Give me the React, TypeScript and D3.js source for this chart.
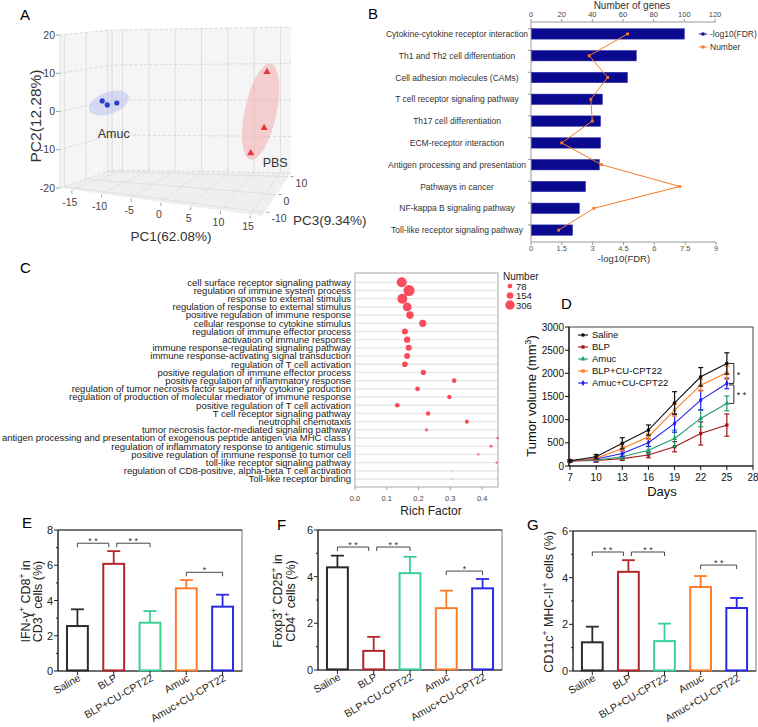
import React from 'react';
import * as d3 from 'd3';

const FONT = '"Liberation Sans", Arial, Helvetica, sans-serif';

// ---------------- Panel A : PCA ----------------
const amucPC1 = [-14.1, -13.2, -11.5];
const amucPC2 = [1.6, 0.6, 1.3];
const amucPC3 = [0, 0, 0];
const pbsPC1 = [15.3, 14.8, 12.4];
const pbsPC2 = [12.1, -2.7, -9.6];
const pbsPC3 = [0, 0, 0];
const pc1Ticks = [-15, -10, -5, 0, 5, 10, 15];
const pc2Ticks = [-20, -10, 0, 10, 20];
const pc3Ticks = [-10, 0, 10];
const pc1Domain = [-17, 17];
const pc2Domain = [-20, 20];
const pc3Domain = [-12, 12];

// ---------------- Panel B : KEGG ----------------
const keggTerms = [
  'Cytokine-cytokine receptor interaction',
  'Th1 and Th2 cell differentiation',
  'Cell adhesion molecules (CAMs)',
  'T cell receptor signaling pathway',
  'Th17 cell differentiation',
  'ECM-receptor interaction',
  'Antigen processing and presentation',
  'Pathways in cancer',
  'NF-kappa B signaling pathway',
  'Toll-like receptor signaling pathway',
];
const keggFDR = [7.44, 5.1, 4.67, 3.45, 3.36, 3.36, 3.3, 2.63, 2.33, 2.0];
const keggCount = [63, 38, 50, 39, 40, 20, 46, 97, 41, 18];
const fdrTicks = [0, 1.5, 3, 4.5, 6, 7.5, 9];
const countTicks = [0, 20, 40, 60, 80, 100, 120];

// ---------------- Panel C : GO ----------------
const goTerms = [
  'cell surface receptor signaling pathway',
  'regulation of immune system process',
  'response to external stimulus',
  'regulation of response to external stimulus',
  'positive regulation of immune response',
  'cellular response to cytokine stimulus',
  'regulation of immune effector process',
  'activation of immune response',
  'immune response-regulating signaling pathway',
  'immune response-activating signal transduction',
  'regulation of T cell activation',
  'positive regulation of immune effector process',
  'positive regulation of inflammatory response',
  'regulation of tumor necrosis factor superfamily cytokine production',
  'regulation of production of molecular mediator of immune response',
  'positive regulation of T cell activation',
  'T cell receptor signaling pathway',
  'neutrophil chemotaxis',
  'tumor necrosis factor-mediated signaling pathway',
  'antigen processing and presentation of exogenous peptide antigen via MHC class I',
  'regulation of inflammatory response to antigenic stimulus',
  'positive regulation of immune response to tumor cell',
  'toll-like receptor signaling pathway',
  'regulation of CD8-positive, alpha-beta T cell activation',
  'Toll-like receptor binding',
];
const goRich = [0.147, 0.17, 0.149, 0.164, 0.173, 0.213, 0.157, 0.164, 0.169, 0.164, 0.157, 0.215, 0.312, 0.197, 0.297, 0.133, 0.23, 0.352, 0.225, 0.449, 0.428, 0.388, 0.446, 0.307, 0.307];
const goCount = [350, 420, 350, 260, 200, 180, 125, 140, 125, 125, 110, 95, 74, 80, 67, 74, 67, 56, 36, 24, 31, 20, 20, 17, 17];
const goSignif = [1, 1, 1, 1, 1, 1, 1, 1, 1, 1, 1, 1, 1, 1, 1, 1, 1, 1, 0.9, 0.9, 0.85, 0.8, 0.8, 0.25, 0.25];
const goLegend = [78, 154, 306];
const richTicks = [0, 0.1, 0.2, 0.3, 0.4];

// ---------------- Panel D : tumor growth ----------------
const days = [7, 10, 13, 16, 19, 22, 25];
const dayTicks = [7, 10, 13, 16, 19, 22, 25, 28];
const volTicks = [0, 500, 1000, 1500, 2000, 2500, 3000];
const tumorGroups = ['Saline', 'BLP', 'Amuc', 'BLP+CU-CPT22', 'Amuc+CU-CPT22'];
const salineVol = [110, 200, 490, 776, 1364, 1925, 2213];
const salineErr = [20, 50, 120, 110, 240, 200, 230];
const blpVol = [110, 120, 160, 237, 416, 703, 883];
const blpErr = [20, 40, 40, 60, 110, 250, 240];
const amucVol = [110, 130, 200, 340, 595, 1027, 1351];
const amucErr = [20, 40, 60, 80, 180, 180, 160];
const blpCuVol = [110, 165, 380, 632, 1207, 1745, 2012];
const blpCuErr = [20, 40, 50, 60, 130, 125, 140];
const amucCuVol = [110, 150, 270, 503, 919, 1422, 1782];
const amucCuErr = [20, 40, 60, 80, 190, 210, 115];

// ---------------- Panels E, F, G ----------------
const barGroups = ['Saline', 'BLP', 'BLP+CU-CPT22', 'Amuc', 'Amuc+CU-CPT22'];
const ifnMean = [2.55, 6.08, 2.74, 4.69, 3.65];
const ifnSd = [0.95, 0.72, 0.66, 0.47, 0.68];
const ifnTicks = [0, 2, 4, 6, 8];
const foxMean = [4.4, 0.82, 4.15, 2.65, 3.5];
const foxSd = [0.5, 0.6, 0.7, 0.75, 0.4];
const foxTicks = [0, 2, 4, 6];
const cdMean = [1.23, 4.25, 1.28, 3.6, 2.7];
const cdSd = [0.67, 0.5, 0.75, 0.47, 0.43];
const cdTicks = [0, 2, 4, 6];
// significance brackets: [fromIndex, toIndex, level, stars]
const ifnSig: [number, number, number, string][] = [[0, 1, 7.25, '* *'], [1, 2, 7.25, '* *'], [3, 4, 5.6, '*']];
const foxSig: [number, number, number, string][] = [[0, 1, 5.27, '* *'], [1, 2, 5.27, '* *'], [3, 4, 4.24, '*']];
const cdSig: [number, number, number, string][] = [[0, 1, 5.1, '* *'], [1, 2, 5.1, '* *'], [3, 4, 4.54, '* *']];

// ---------------- helpers ----------------
type Part = [string, boolean];
function rich(parts: Part[], fs: number) {
  let raised = false;
  return parts.map(([t, sup], i) => {
    let dy: number | undefined;
    if (sup && !raised) { dy = -fs * 0.38; raised = true; }
    else if (!sup && raised) { dy = fs * 0.38; raised = false; }
    return (
      <tspan key={i} dy={dy} fontSize={sup ? fs * 0.68 : fs}>{t}</tspan>
    );
  });
}

type P2 = [number, number];
const lerp = (a: P2, b: P2, t: number): P2 => [a[0] + (b[0] - a[0]) * t, a[1] + (b[1] - a[1]) * t];

// ---------------- Panel A ----------------
function PanelA() {
  const C = {
    f: { b: { l: [60, 188] as P2, r: [262, 216] as P2 }, t: { l: [60, 35] as P2, r: [262, 58] as P2 } },
    k: { b: { l: [112, 170] as P2, r: [291, 173] as P2 }, t: { l: [112, 30] as P2, r: [291, 27] as P2 } },
  };
  const s1 = d3.scaleLinear().domain(pc1Domain).range([0, 1]);
  const s2 = d3.scaleLinear().domain(pc2Domain).range([0, 1]);
  const s3 = d3.scaleLinear().domain(pc3Domain).range([0, 1]);
  const proj = (a: number, b: number, c: number): P2 => {
    const u = s1(a), v = s2(b), w = s3(c);
    const f = lerp(lerp(C.f.b.l, C.f.b.r, u), lerp(C.f.t.l, C.f.t.r, u), v);
    const k = lerp(lerp(C.k.b.l, C.k.b.r, u), lerp(C.k.t.l, C.k.t.r, u), v);
    return lerp(f, k, w);
  };
  const line = d3.line();
  const [x0, x1] = pc1Domain, [y0, y1] = pc2Domain, [z0, z1] = pc3Domain;
  const poly = (pts: P2[]) => line(pts)! + 'Z';
  const grid = '#d8d8d8';
  const amucPts = amucPC1.map((v, i) => proj(v, amucPC2[i], amucPC3[i]));
  const pbsPts = pbsPC1.map((v, i) => proj(v, pbsPC2[i], pbsPC3[i]));
  const cen = (pts: P2[]): P2 => [d3.mean(pts, (p) => p[0])!, d3.mean(pts, (p) => p[1])!];
  const ca = cen(amucPts), cp = cen(pbsPts);
  const tri = d3.symbol().type(d3.symbolTriangle).size(22)()!;
  return (
    <g fontFamily={FONT}>
      <text x={20} y={20} fontSize={15}>A</text>
      <path d={poly([proj(x0, y0, z0), proj(x0, y1, z0), proj(x0, y1, z1), proj(x0, y0, z1)])} fill="#f5f5f5" />
      <path d={poly([proj(x0, y0, z1), proj(x0, y1, z1), proj(x1, y1, z1), proj(x1, y0, z1)])} fill="#f5f5f5" />
      <path d={poly([proj(x0, y0, z0), proj(x0, y0, z1), proj(x1, y0, z1), proj(x1, y0, z0)])} fill="#efefef" />
      {pc1Ticks.map((t) => <path key={'bv' + t} d={line([proj(t, y0, z1), proj(t, y1, z1)])!} stroke={grid} strokeWidth={0.8} />)}
      {pc3Ticks.map((t) => <path key={'lv' + t} d={line([proj(x0, y0, t), proj(x0, y1, t)])!} stroke={grid} strokeWidth={0.8} />)}
      <path d={line([proj(x0, y0, z0), proj(x0, y1, z0)])!} stroke={grid} strokeWidth={0.8} />
      <path d={line([proj(x0, y0, z1), proj(x0, y1, z1)])!} stroke="#d0d0d0" strokeWidth={0.8} />
      {pc2Ticks.map((t) => (
        <path key={'h' + t} d={line([proj(x0, t, z0), proj(x0, t, z1), proj(x1, t, z1)])!} stroke="#d0d0d0" strokeWidth={0.8} strokeDasharray="3,2" fill="none" />
      ))}
      {pc1Ticks.map((t) => <path key={'fv' + t} d={line([proj(t, y0, z0), proj(t, y0, z1)])!} stroke="#dcdcdc" strokeWidth={0.8} />)}
      {pc3Ticks.map((t) => <path key={'fh' + t} d={line([proj(x0, y0, t), proj(x1, y0, t)])!} stroke="#dcdcdc" strokeWidth={0.8} />)}
      {pc2Ticks.map((t) => {
        const p = proj(x0, t, z0);
        return (
          <g key={'t2' + t}>
            <line x1={p[0] - 4} x2={p[0]} y1={p[1]} y2={p[1]} stroke="#888" strokeWidth={0.8} />
            <text x={p[0] - 5} y={p[1] + 3.5} fontSize={10.5} textAnchor="end" fill="#444">{t}</text>
          </g>
        );
      })}
      {pc1Ticks.map((t) => {
        const p = proj(t, y0, z0);
        return (
          <g key={'t1' + t}>
            <line x1={p[0]} x2={p[0]} y1={p[1] + 1} y2={p[1] + 4} stroke="#888" strokeWidth={0.8} />
            <text x={p[0] - 2} y={p[1] + 16} fontSize={10.5} textAnchor="middle" fill="#444">{t}</text>
          </g>
        );
      })}
      {pc3Ticks.map((t) => {
        const p = proj(x1, y0, t);
        return (
          <g key={'t3' + t}>
            <line x1={p[0] + 2} x2={p[0] + 5} y1={p[1]} y2={p[1]} stroke="#888" strokeWidth={0.8} />
            <text x={p[0] + 7} y={p[1] + 10} fontSize={10.5} textAnchor="start" fill="#444">{t}</text>
          </g>
        );
      })}
      <ellipse cx={ca[0]} cy={ca[1]} rx={21} ry={11} transform={`rotate(-20 ${ca[0]} ${ca[1]})`} fill="#9aa8ee" fillOpacity={0.35} />
      <ellipse cx={cp[0]} cy={cp[1] - 6} rx={16} ry={49} transform={`rotate(12 ${cp[0]} ${cp[1] - 6})`} fill="#f4a0a0" fillOpacity={0.45} />
      {amucPts.map((p, i) => <circle key={'a' + i} cx={p[0]} cy={p[1]} r={2.6} fill="#2a3bd0" />)}
      {pbsPts.map((p, i) => <path key={'p' + i} d={tri} transform={`translate(${p[0]},${p[1]})`} fill="#e8323c" />)}
      <text x={ca[0] - 11} y={ca[1] + 35} fontSize={12.5} fill="#333">Amuc</text>
      <text x={cp[0] + 2} y={cp[1] + 49} fontSize={12.5} fill="#333">PBS</text>
      <text transform="translate(41,116) rotate(-90)" fontSize={15.5} textAnchor="middle" fill="#333">PC2(12.28%)</text>
      <text x={171} y={241} fontSize={13.5} textAnchor="middle" fill="#333">PC1(62.08%)</text>
      <text x={293} y={225} fontSize={13.5} fill="#333">PC3(9.34%)</text>
    </g>
  );
}

// ---------------- Panel B ----------------
function PanelB() {
  const xF = d3.scaleLinear().domain([0, 9]).range([531, 716]);
  const xN = d3.scaleLinear().domain([0, 120]).range([531, 715]);
  const y = d3.scaleBand<string>().domain(keggTerms).range([23, 241]).paddingInner(0.52).paddingOuter(0.26);
  const step = y.step();
  const ln = d3.line<number>().x((d) => xN(d)).y((_, i) => y(keggTerms[i])! + y.bandwidth() / 2);
  const ax = '#9a9a9a';
  return (
    <g fontFamily={FONT}>
      <text x={368} y={19} fontSize={15}>B</text>
      <text x={632} y={9} fontSize={10} textAnchor="middle" fill="#333">Number of genes</text>
      <line x1={531} x2={716} y1={22} y2={22} stroke={ax} />
      {countTicks.map((t) => (
        <g key={'ct' + t}>
          <line x1={xN(t)} x2={xN(t)} y1={22} y2={19} stroke={ax} />
          <text x={xN(t)} y={17} fontSize={7.5} textAnchor="middle" fill="#444">{t}</text>
        </g>
      ))}
      <line x1={531} x2={716} y1={242} y2={242} stroke={ax} />
      {fdrTicks.map((t) => (
        <g key={'ft' + t}>
          <line x1={xF(t)} x2={xF(t)} y1={242} y2={245} stroke={ax} />
          <text x={xF(t)} y={251} fontSize={7.5} textAnchor="middle" fill="#555">{t}</text>
        </g>
      ))}
      <text x={624} y={262} fontSize={9.5} textAnchor="middle" fill="#333">-log10(FDR)</text>
      <line x1={531} x2={531} y1={22} y2={242} stroke={ax} />
      {keggTerms.map((t, i) => (
        <g key={t}>
          <line x1={528} x2={531} y1={23 + step * 0.26 + step * i} y2={23 + step * 0.26 + step * i} stroke={ax} />
          <rect x={xF(0) + 0.5} y={y(t)!} width={xF(keggFDR[i]) - xF(0)} height={y.bandwidth()} fill="#0a0a8e" stroke="#3030b0" strokeWidth={0.5} />
          <text x={457} y={y(t)! + y.bandwidth() / 2 + 3} fontSize={8.5} textAnchor="middle" fill="#333">{t}</text>
        </g>
      ))}
      <path d={ln(keggCount)!} fill="none" stroke="#f6792a" strokeWidth={1} />
      {keggCount.map((c, i) => (
        <rect key={'m' + i} x={xN(c) - 1.4} y={y(keggTerms[i])! + y.bandwidth() / 2 - 1.4} width={2.8} height={2.8} fill="#f6792a" />
      ))}
      <line x1={699} x2={707} y1={34} y2={34} stroke="#0a0a8e" strokeWidth={1} />
      <rect x={701.5} y={32.5} width={3} height={3} fill="#0a0a8e" />
      <text x={710} y={37} fontSize={8.5} fill="#333">-log10(FDR)</text>
      <line x1={699} x2={707} y1={47} y2={47} stroke="#f6792a" strokeWidth={1} />
      <rect x={701.5} y={45.5} width={3} height={3} fill="#f6792a" />
      <text x={710} y={50} fontSize={8.5} fill="#333">Number</text>
    </g>
  );
}

// ---------------- Panel C ----------------
function PanelC() {
  const x = d3.scaleLinear().domain([0, 0.45]).range([355, 498]);
  const y = d3.scalePoint<string>().domain(goTerms).range([282.3, 479]);
  const r = d3.scaleSqrt().domain([0, 306]).range([0, 4.7]);
  const col = d3.scaleLinear<string>().domain([0, 1]).range(['#fde2e2', '#fb4a5c']);
  return (
    <g fontFamily={FONT}>
      <text x={20} y={273} fontSize={15}>C</text>
      <rect x={355} y={273} width={143} height={214} fill="#fff" />
      {goTerms.map((t) => (
        <line key={'g' + t} x1={355} x2={498} y1={y(t)} y2={y(t)} stroke="#e6e6e6" strokeWidth={1.3} />
      ))}
      <rect x={355} y={273} width={143} height={214} fill="none" stroke="#a8a8a8" strokeWidth={1} />
      {goTerms.map((t) => (
        <text key={'l' + t} x={351} y={y(t)! + 3.3} fontSize={9.5} textAnchor="end" fill="#1a1a1a">{t}</text>
      ))}
      {goTerms.map((t, i) => (
        <circle key={'c' + t} cx={x(goRich[i])} cy={y(t)} r={r(goCount[i])} fill={col(goSignif[i])} />
      ))}
      {richTicks.map((t) => (
        <g key={'rt' + t}>
          <line x1={x(t)} x2={x(t)} y1={487} y2={490} stroke="#999" />
          <text x={x(t)} y={501} fontSize={7.5} textAnchor="middle" fill="#444">{t.toFixed(1)}</text>
        </g>
      ))}
      <text x={431} y={515} fontSize={12} textAnchor="middle" fill="#222">Rich Factor</text>
      <text x={503} y={280} fontSize={10} fill="#222">Number</text>
      {goLegend.map((n, i) => (
        <g key={'lg' + n}>
          <circle cx={510} cy={286 + i * 9.5} r={r(n)} fill="#fb4a5c" />
          <text x={516} y={289.5 + i * 9.5} fontSize={9.5} fill="#222">{n}</text>
        </g>
      ))}
    </g>
  );
}

// ---------------- Panel D ----------------
function PanelD() {
  const x = d3.scaleLinear().domain([7, 28]).range([570, 753]);
  const y = d3.scaleLinear().domain([0, 3000]).range([466, 327]);
  const series = [
    { name: tumorGroups[0], v: salineVol, e: salineErr, c: '#111111', s: d3.symbolCircle },
    { name: tumorGroups[1], v: blpVol, e: blpErr, c: '#a3151b', s: d3.symbolSquare },
    { name: tumorGroups[2], v: amucVol, e: amucErr, c: '#1d9e6f', s: d3.symbolTriangle },
    { name: tumorGroups[3], v: blpCuVol, e: blpCuErr, c: '#ff7a25', s: d3.symbolSquare },
    { name: tumorGroups[4], v: amucCuVol, e: amucCuErr, c: '#2020ee', s: d3.symbolDiamond },
  ];
  const ln = d3.line<number>().x((_, i) => x(days[i])).y((d) => y(d));
  const drawOrder = [1, 2, 4, 3, 0];
  const xb = x(25);
  return (
    <g fontFamily={FONT}>
      <text x={561} y={309} fontSize={15}>D</text>
      <rect x={569} y={327} width={184} height={139} fill="none" stroke="#444" strokeWidth={1} />
      <line x1={569} x2={569} y1={327} y2={466} stroke="#111" strokeWidth={1.2} />
      <line x1={569} x2={753} y1={466} y2={466} stroke="#111" strokeWidth={1.2} />
      {volTicks.map((t) => (
        <g key={'vt' + t}>
          <line x1={565} x2={569} y1={y(t)} y2={y(t)} stroke="#111" />
          <text x={564} y={y(t) + 3.5} fontSize={10} textAnchor="end" fill="#111">{t}</text>
        </g>
      ))}
      {dayTicks.map((t) => (
        <g key={'dt' + t}>
          <line x1={x(t)} x2={x(t)} y1={466} y2={470} stroke="#111" />
          <text x={x(t)} y={481} fontSize={10} textAnchor="middle" fill="#111">{t}</text>
        </g>
      ))}
      <text x={662} y={496} fontSize={13} textAnchor="middle" fill="#111">Days</text>
      <text transform="translate(536,396) rotate(-90)" fontSize={13} textAnchor="middle" fill="#111">
        {rich([['Tumor volume (mm', false], ['3', true], [')', false]], 13)}
      </text>
      {drawOrder.map((k) => {
        const s = series[k];
        const sym = d3.symbol().type(s.s).size(11)()!;
        return (
          <g key={s.name}>
            <path d={ln(s.v)!} fill="none" stroke={s.c} strokeWidth={1.1} />
            {s.v.map((v, i) => (
              <g key={i}>
                <line x1={x(days[i])} x2={x(days[i])} y1={y(v - s.e[i])} y2={y(v + s.e[i])} stroke={s.c} strokeWidth={1.2} />
                <line x1={x(days[i]) - 2.5} x2={x(days[i]) + 2.5} y1={y(v - s.e[i])} y2={y(v - s.e[i])} stroke={s.c} strokeWidth={1.2} />
                <line x1={x(days[i]) - 2.5} x2={x(days[i]) + 2.5} y1={y(v + s.e[i])} y2={y(v + s.e[i])} stroke={s.c} strokeWidth={1.2} />
                <path d={sym} transform={`translate(${x(days[i])},${y(v)})`} fill={s.c} />
              </g>
            ))}
          </g>
        );
      })}
      {series.map((s, i) => {
        const sym = d3.symbol().type(s.s).size(11)()!;
        const yy = 335 + i * 12;
        return (
          <g key={'lg' + s.name}>
            <line x1={578} x2={588} y1={yy} y2={yy} stroke={s.c} strokeWidth={1.1} />
            <path d={sym} transform={`translate(583,${yy})`} fill={s.c} />
            <text x={592} y={yy + 3.3} fontSize={9.5} fill="#111">{s.name}</text>
          </g>
        );
      })}
      <path d={`M${xb + 2},${y(salineVol[6])}H${xb + 7}V${y(amucCuVol[6])}H${xb + 2}`} fill="none" stroke="#111" strokeWidth={0.9} />
      <text x={xb + 10} y={y((salineVol[6] + amucCuVol[6]) / 2) + 5} fontSize={9} fill="#111">*</text>
      <path d={`M${xb + 2},${y(amucCuVol[6]) + 1.5}H${xb + 7}V${y(amucVol[6])}H${xb + 2}`} fill="none" stroke="#111" strokeWidth={0.9} />
      <text x={xb + 10} y={y((amucCuVol[6] + amucVol[6]) / 2) + 5} fontSize={9} fill="#111">* *</text>
    </g>
  );
}

// ---------------- Bar panels ----------------
type BarProps = {
  letter: string; lx: number; ly: number;
  x0: number; x1: number; yTop: number; yBot: number;
  ticks: number[]; means: number[]; sds: number[];
  sig: [number, number, number, string][];
  ylab: Part[][]; ylabX: number[];
};
const barColors = ['#2b2b2b', '#b3242b', '#3ccf95', '#ff7b2c', '#2a2ae6'];
function BarPanel(p: BarProps) {
  const yMax = p.ticks[p.ticks.length - 1];
  const x = d3.scaleBand<string>().domain(barGroups).range([p.x0, p.x1]).paddingInner(0.37).paddingOuter(0.22);
  const y = d3.scaleLinear().domain([0, yMax]).range([p.yBot, p.yTop]);
  const cx = (i: number) => x(barGroups[i])! + x.bandwidth() / 2;
  const bw = x.bandwidth();
  const yMid = (p.yTop + p.yBot) / 2 + 1;
  return (
    <g fontFamily={FONT}>
      <text x={p.lx} y={p.ly} fontSize={15}>{p.letter}</text>
      <rect x={p.x0} y={p.yTop} width={p.x1 - p.x0} height={p.yBot - p.yTop} fill="none" stroke="#777" strokeWidth={1} />
      <line x1={p.x0} x2={p.x1} y1={p.yTop} y2={p.yTop} stroke="#333" strokeWidth={1} />
      <line x1={p.x0} x2={p.x0} y1={p.yTop} y2={p.yBot} stroke="#222" strokeWidth={1.2} />
      <line x1={p.x0} x2={p.x1} y1={p.yBot} y2={p.yBot} stroke="#222" strokeWidth={1.2} />
      {p.ticks.map((t) => (
        <g key={'t' + t}>
          <line x1={p.x0 - 4} x2={p.x0} y1={y(t)} y2={y(t)} stroke="#222" />
          <text x={p.x0 - 5} y={y(t) + 4} fontSize={11} textAnchor="end" fill="#222">{t}</text>
        </g>
      ))}
      {p.ticks.slice(0, -1).map((t, i) => (
        <line key={'mt' + t} x1={p.x0 - 2} x2={p.x0} y1={y((t + p.ticks[i + 1]) / 2)} y2={y((t + p.ticks[i + 1]) / 2)} stroke="#222" />
      ))}
      {barGroups.map((g, i) => (
        <g key={g}>
          <line x1={cx(i)} x2={cx(i)} y1={y(p.means[i])} y2={y(p.means[i] + p.sds[i])} stroke={barColors[i]} strokeWidth={1.8} />
          <line x1={cx(i) - 6.5} x2={cx(i) + 6.5} y1={y(p.means[i] + p.sds[i])} y2={y(p.means[i] + p.sds[i])} stroke={barColors[i]} strokeWidth={1.8} />
          <rect x={x(g)! + 1} y={y(p.means[i])} width={bw - 2} height={p.yBot - y(p.means[i]) - 0.6} fill="#fff" stroke={barColors[i]} strokeWidth={2} />
          <line x1={cx(i)} x2={cx(i)} y1={p.yBot} y2={p.yBot + 4} stroke="#222" />
          <text transform={`translate(${cx(i) + 4},${p.yBot + 9}) rotate(-30)`} fontSize={10.5} textAnchor="end" fill="#222">{g}</text>
        </g>
      ))}
      {p.sig.map(([a, b, lv, s], k) => {
        const xa = cx(a) + (k === 1 ? 3 : 0);
        const xbb = cx(b) - (k === 0 ? 5 : 0);
        const yy = y(lv);
        return (
          <g key={'s' + k}>
            <path d={`M${xa},${yy + 4}V${yy}H${xbb}V${yy + 4}`} fill="none" stroke="#333" strokeWidth={0.9} />
            <text x={(xa + xbb) / 2} y={yy + 1} fontSize={9} textAnchor="middle" fill="#333">{s}</text>
          </g>
        );
      })}
      {p.ylab.map((parts, i) => (
        <text key={'yl' + i} transform={`translate(${p.ylabX[i]},${yMid}) rotate(-90)`} fontSize={12.5} textAnchor="middle" fill="#222">
          {rich(parts, 12.5)}
        </text>
      ))}
    </g>
  );
}

export default function App() {
  return (
    <svg width={758} height={727} viewBox="0 0 758 727" style={{ position: 'absolute', left: 0, top: 0, display: 'block', background: '#fff' }}>
      <rect width={758} height={727} fill="#fff" />
      <PanelA />
      <PanelB />
      <PanelC />
      <PanelD />
      <BarPanel letter="E" lx={22} ly={528} x0={58} x1={242} yTop={530} yBot={671} ticks={ifnTicks} means={ifnMean} sds={ifnSd} sig={ifnSig}
        ylab={[[['IFN-γ', false], ['+', true], [' CD8', false], ['+', true], [' in', false]], [['CD3', false], ['+', true], [' cells (%)', false]]]} ylabX={[29.5, 42]} />
      <BarPanel letter="F" lx={277} ly={530} x0={318} x1={502} yTop={530} yBot={670} ticks={foxTicks} means={foxMean} sds={foxSd} sig={foxSig}
        ylab={[[['Foxp3', false], ['+', true], [' CD25', false], ['+', true], [' in', false]], [['CD4', false], ['+', true], [' cells (%)', false]]]} ylabX={[282, 294.5]} />
      <BarPanel letter="G" lx={527} ly={530} x0={573} x1={756} yTop={531} yBot={671} ticks={cdTicks} means={cdMean} sds={cdSd} sig={cdSig}
        ylab={[[['CD11c', false], ['+', true], [' MHC-II', false], ['+', true], [' cells (%)', false]]]} ylabX={[553]} />
    </svg>
  );
}
